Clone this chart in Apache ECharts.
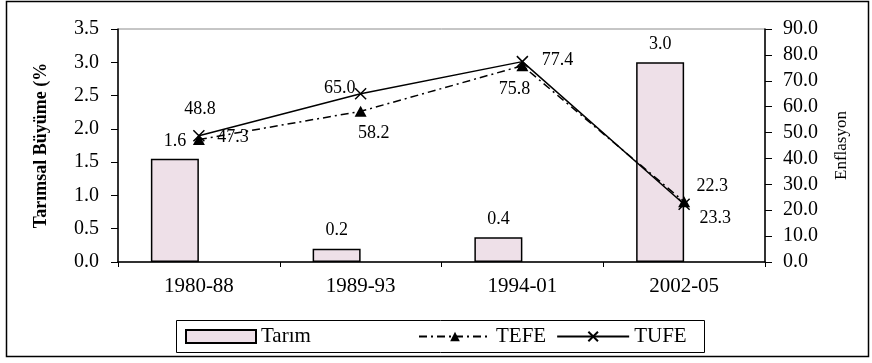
<!DOCTYPE html>
<html>
<head>
<meta charset="utf-8">
<script src="https://cdn.jsdelivr.net/npm/echarts@6/dist/echarts.min.js"></script>
<style>html,body{margin:0;padding:0;background:#fff}#c{width:872px;height:363px}</style>
</head>
<body>
<div id="c"></div>
<script>
const categories = ['1980-88', '1989-93', '1994-01', '2002-05'];
const tarim = [1.55, 0.2, 0.37, 3.0];
const tefe = [47.3, 58.2, 75.8, 23.3];
const tufe = [48.8, 65.0, 77.4, 22.3];
const leftTicks = [0, 0.5, 1.0, 1.5, 2.0, 2.5, 3.0, 3.5];
const rightTicks = [0, 10, 20, 30, 40, 50, 60, 70, 80, 90];

const FONT = '"Liberation Serif", "Times New Roman", serif';
// label offsets (text centre relative to point), pixels
const tefeOffsets = [[34, -2], [13, 22], [-8, 24], [31, 17]];
const tufeOffsets = [[1, -26], [-21, -5], [35, -1], [28, -18]];

const lblStyle = { show: true, position: 'inside', color: '#000', fontFamily: FONT, fontSize: 18,
  formatter: p => p.value.toFixed(1) };

const chart = echarts.init(document.getElementById('c'), null, { renderer: 'canvas' });
chart.setOption({
  animation: false,
  backgroundColor: '#fff',
  grid: { left: 118, right: 107, top: 29, bottom: 101, show: true, borderColor: '#8c8c8c', borderWidth: 1 },
  xAxis: {
    type: 'category', data: categories, boundaryGap: true,
    axisLine: { lineStyle: { color: '#000', width: 1.5 } },
    axisTick: { show: true, length: 5, lineStyle: { color: '#000' } },
    axisLabel: { color: '#000', fontFamily: FONT, fontSize: 21, margin: 14 }
  },
  yAxis: [
    {
      type: 'value', min: leftTicks[0], max: leftTicks[leftTicks.length - 1], interval: 0.5,
      position: 'left',
      name: 'Tarımsal Büyüme (%', nameLocation: 'middle', nameRotate: 90, nameGap: 68,
      nameTextStyle: { color: '#000', fontFamily: FONT, fontSize: 18, fontWeight: 'bold' },
      axisLine: { show: true, lineStyle: { color: '#000', width: 1.5 } },
      axisTick: { show: true, length: 7, lineStyle: { color: '#000' } },
      splitLine: { show: false },
      axisLabel: { color: '#000', fontFamily: FONT, fontSize: 20, margin: 19, formatter: v => v.toFixed(1) }
    },
    {
      type: 'value', min: rightTicks[0], max: rightTicks[rightTicks.length - 1], interval: 10,
      position: 'right',
      name: 'Enflasyon', nameLocation: 'middle', nameRotate: 90, nameGap: 68,
      nameTextStyle: { color: '#000', fontFamily: FONT, fontSize: 17 },
      axisLine: { show: true, lineStyle: { color: '#000', width: 1.5 } },
      axisTick: { show: true, length: 7, lineStyle: { color: '#000' } },
      splitLine: { show: false },
      axisLabel: { color: '#000', fontFamily: FONT, fontSize: 20, margin: 18, formatter: v => v.toFixed(1) }
    }
  ],
  legend: [
    {
      data: ['Tarım'], left: 185, top: 326, padding: 0, itemWidth: 70, itemHeight: 13, icon: 'rect',
      textStyle: { color: '#000', fontFamily: FONT, fontSize: 21 }
    },
    {
      data: ['TEFE', 'TUFE'], left: 418, top: 326, padding: 0, itemWidth: 72, itemHeight: 12, itemGap: 10,
      textStyle: { color: '#000', fontFamily: FONT, fontSize: 21 }
    }
  ],
  series: [
    {
      name: 'Tarım', type: 'bar', yAxisIndex: 0, data: tarim, barWidth: 48, barGap: '0%',
      itemStyle: { color: '#EEE0E8', borderColor: '#000', borderWidth: 1.5 },
      label: { show: true, position: 'top', distance: 9, color: '#000', fontFamily: FONT, fontSize: 18,
        formatter: p => p.value.toFixed(1) }
    },
    {
      name: 'pad', type: 'bar', yAxisIndex: 0, data: categories.map(() => null), barWidth: 48, barGap: '0%'
    },
    {
      name: 'TEFE', type: 'line', yAxisIndex: 1,
      data: tefe.map((v, i) => ({ value: v, label: Object.assign({}, lblStyle, { offset: tefeOffsets[i] }) })),
      symbol: 'triangle', symbolSize: [12, 11],
      itemStyle: { color: '#000' },
      lineStyle: { color: '#000', width: 1.5, type: [8, 4, 2, 4] },
      z: 3
    },
    {
      name: 'TUFE', type: 'line', yAxisIndex: 1,
      data: tufe.map((v, i) => ({ value: v, label: Object.assign({}, lblStyle, { offset: tufeOffsets[i] }) })),
      symbol: 'path://M0,0L10,10M10,0L0,10', symbolSize: 11,
      itemStyle: { color: 'none', borderColor: '#000', borderWidth: 1.5 },
      lineStyle: { color: '#000', width: 1.5 },
      z: 4
    }
  ],
  graphic: [
    { type: 'rect', shape: { x: 6.5, y: 1.5, width: 862, height: 355 }, style: { fill: 'none', stroke: '#000', lineWidth: 1.5 }, silent: true },
    { type: 'rect', shape: { x: 176.5, y: 320.5, width: 528, height: 32 }, style: { fill: 'none', stroke: '#000', lineWidth: 1 }, silent: true }
  ]
});
</script>
</body>
</html>
